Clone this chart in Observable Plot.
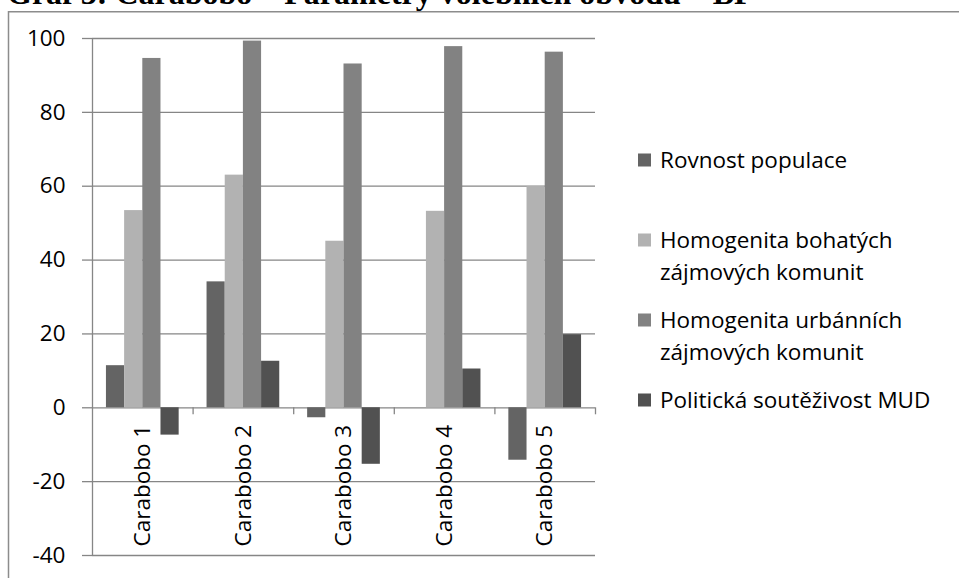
<!DOCTYPE html>
<html><head><meta charset="utf-8">
<script src="https://cdn.jsdelivr.net/npm/d3@7"></script>
<script src="https://cdn.jsdelivr.net/npm/@observablehq/plot@0.6"></script>
<style>
body{margin:0;background:#fff;}
#wrap{width:959px;height:578px;overflow:hidden;position:relative;background:#fff;}
#title{position:relative;height:11px;overflow:hidden;}
#title span{position:absolute;left:7px;top:-23px;font:bold 32px "Liberation Serif",serif;line-height:32px;white-space:nowrap;color:#000;}
#chart svg{display:block;}
</style></head><body>
<div id="wrap"><div id="title"><span>Graf 3: Carabobo – Parametry volebních obvodů – BP</span></div><div id="chart"></div></div>
<script>
const categories = ["Carabobo 1", "Carabobo 2", "Carabobo 3", "Carabobo 4", "Carabobo 5"];
const seriesNames = ["Rovnost populace", "Homogenita bohatých zájmových komunit", "Homogenita urbánních zájmových komunit", "Politická soutěživost MUD"];
const legendLines = [["Rovnost populace"], ["Homogenita bohatých", "zájmových komunit"], ["Homogenita urbánních", "zájmových komunit"], ["Politická soutěživost MUD"]];
const rovnost = [11.4, 34.1, -2.7, 0, -14.2];
const bohatych = [53.4, 63.0, 45.1, 53.2, 59.9];
const urbannich = [94.6, 99.3, 93.1, 97.8, 96.3];
const politicka = [-7.4, 12.6, -15.3, 10.5, 19.8];
const yTicks = [-40, -20, 0, 20, 40, 60, 80, 100];
const colors = ["#646464", "#b2b2b2", "#828282", "#515151"];

const seriesValues = [rovnost, bohatych, urbannich, politicka];
const data = categories.flatMap((c, i) => seriesNames.map((s, j) => ({category: c, ci: i, series: s, sj: j, value: seriesValues[j][i]})));
const boundaries = categories.map((c, i) => i + 0.5);

const barW = 0.1807;
const groupW = barW * seriesNames.length;
const bx1 = d => d.ci - groupW / 2 + d.sj * barW;
const bx2 = d => bx1(d) + barW;
const font = "'Open Sans', Lato, sans-serif";
const fs = 22.5;
const grid = "#868686";

const chart = Plot.plot({
  width: 959, height: 567,
  marginTop: 27, marginBottom: 23, marginLeft: 92, marginRight: 364,
  style: {fontFamily: font, fontSize: fs + "px", color: "#000", background: "#fff", overflow: "visible"},
  x: {domain: [-0.5, categories.length - 0.5], axis: null},
  y: {domain: [-40, 100], ticks: yTicks, tickSize: 10, tickPadding: 17, label: null, tickFormat: d => String(d)},
  color: {domain: seriesNames, range: colors},
  marks: [
    Plot.ruleY(yTicks, {stroke: grid, strokeWidth: 1.3}),
    Plot.rect(data, {x1: bx1, x2: bx2, y1: 0, y2: "value", fill: "series"}),
    Plot.ruleX([-0.5], {stroke: grid, strokeWidth: 1.3}),
    Plot.ruleX(boundaries, {y1: 0, y2: 0, insetBottom: -7, stroke: grid, strokeWidth: 1.3}),
    Plot.text(categories, {x: (d, i) => i, y: () => 0, text: d => d, rotate: -90, textAnchor: "end", dy: 17, fontSize: fs, fill: "#000"})
  ]
});

const svg = d3.select(chart);
svg.selectAll('[aria-label="y-axis tick"]').attr("stroke", grid).attr("stroke-width", 1.3);
svg.selectAll('[aria-label="y-axis tick label"]').attr("fill", "#000");

// outer chart border
svg.append("path").attr("d", "M8.5,567V0.75H959").attr("fill", "none").attr("stroke", "#8c8c8c").attr("stroke-width", 1.5);

// legend
const legendY = [149, 229, 309, 389];
const lg = svg.append("g").attr("font-family", font).attr("font-size", fs).attr("text-anchor", "start");
legendLines.forEach((lines, j) => {
  lg.append("rect").attr("x", 638).attr("y", legendY[j] - 6.5).attr("width", 13).attr("height", 13).attr("fill", colors[j]);
  lines.forEach((t, k) => {
    lg.append("text").attr("x", 660).attr("y", legendY[j] + 32 * k + 8).attr("fill", "#000").text(t);
  });
});

document.getElementById("chart").appendChild(chart);
</script>
</body></html>
